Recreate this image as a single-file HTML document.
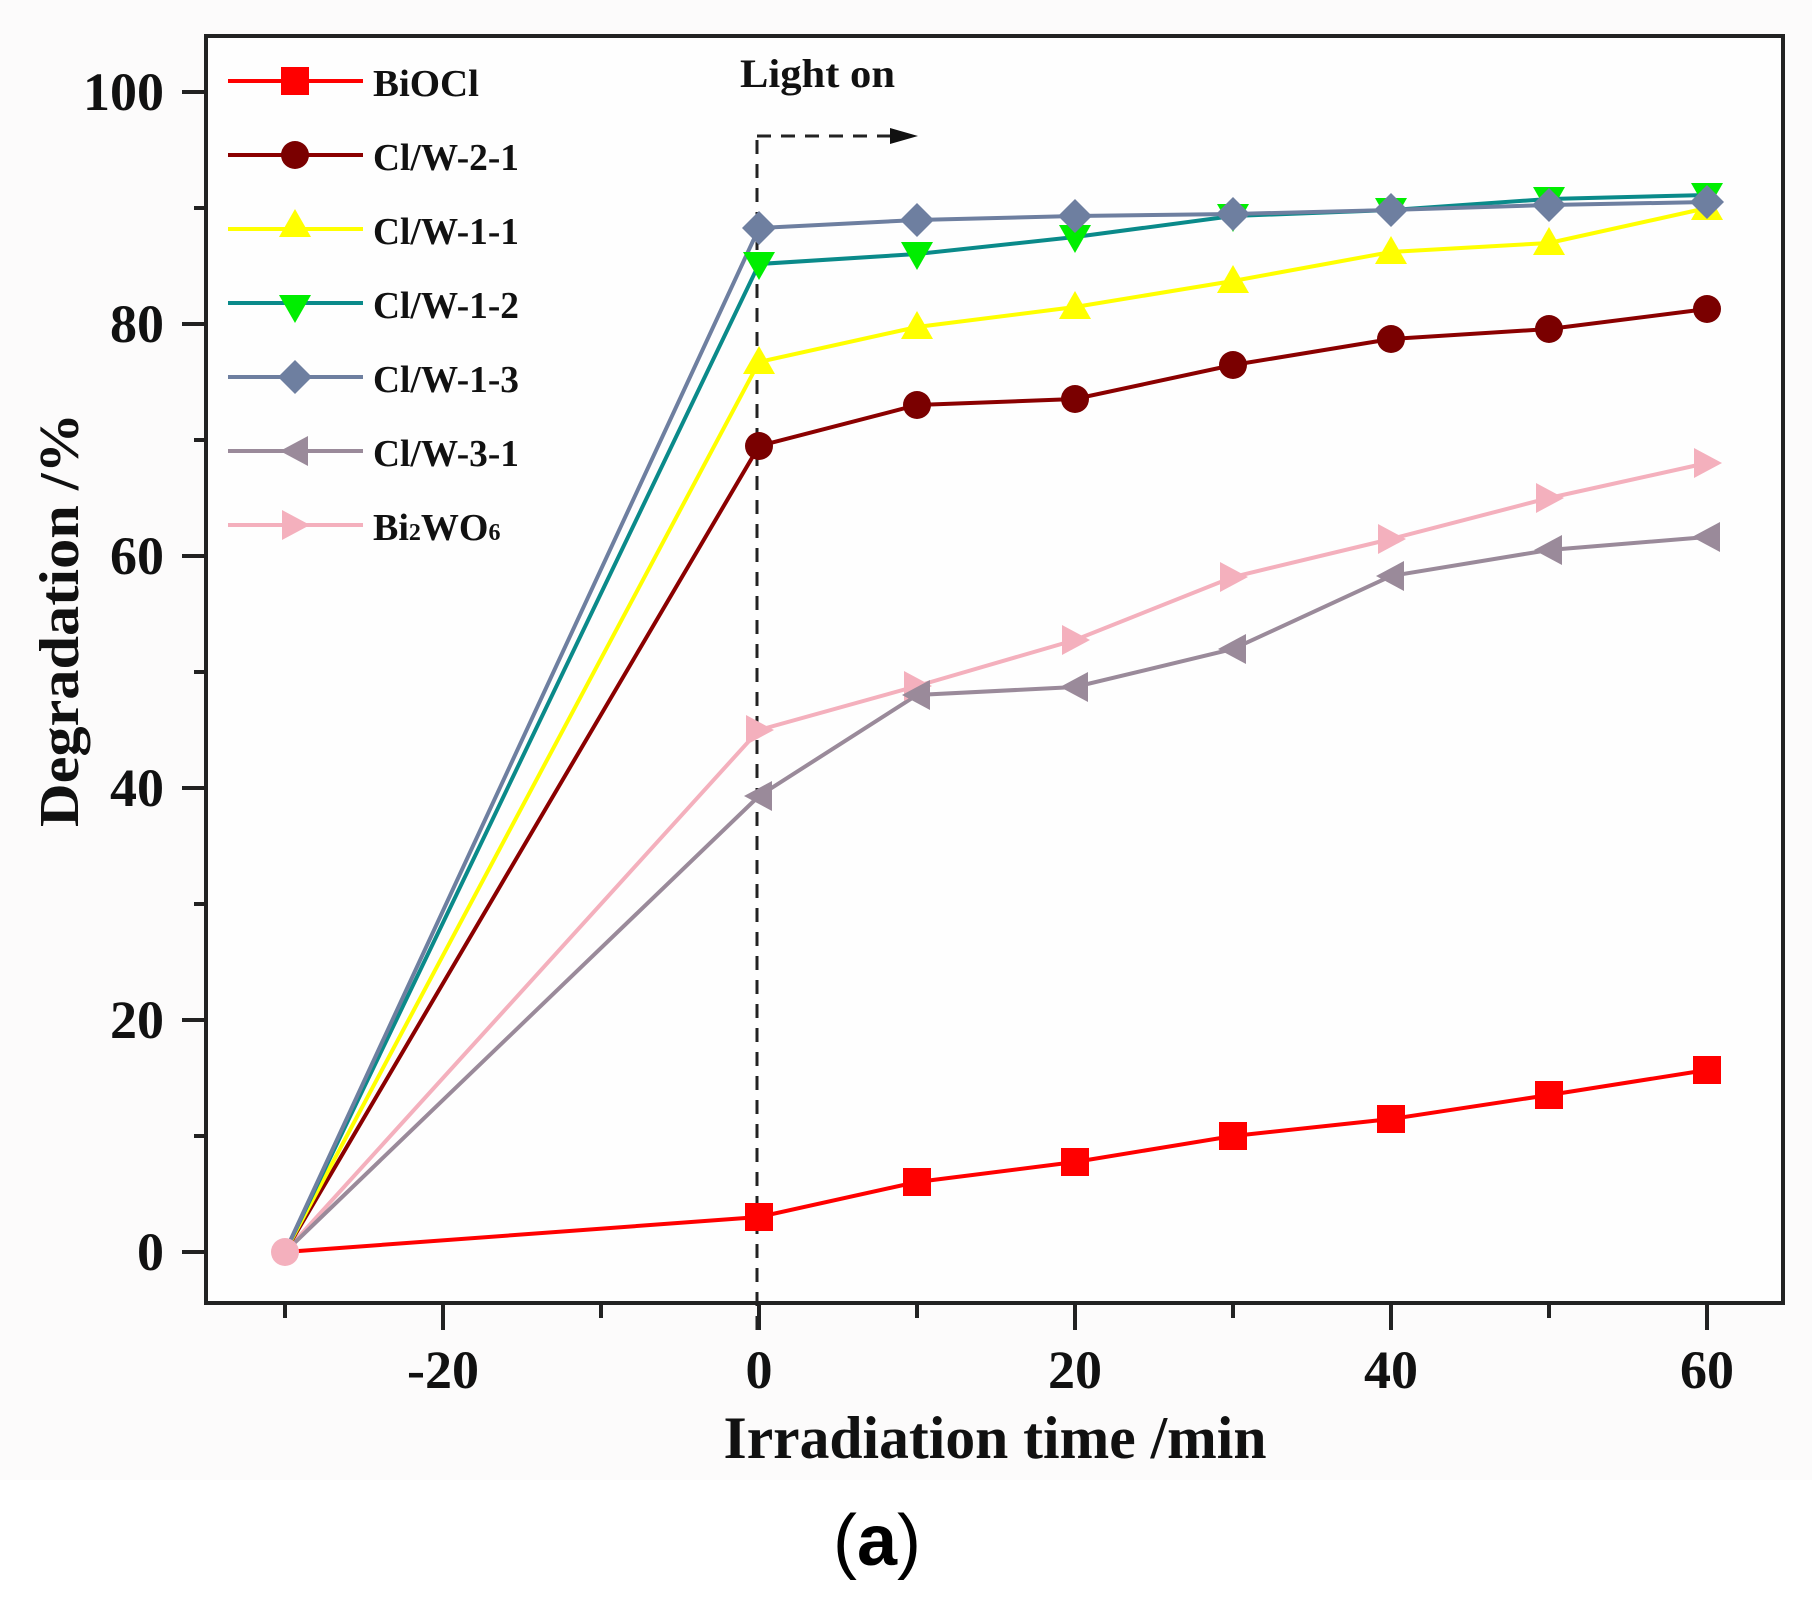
<!DOCTYPE html>
<html><head><meta charset="utf-8"><style>html,body{margin:0;padding:0;background:#fff}svg{display:block}</style></head>
<body>
<svg width="1812" height="1620" viewBox="0 0 1812 1620" xmlns="http://www.w3.org/2000/svg">
<rect x="0" y="0" width="1812" height="1480" fill="#fcfbfb"/>
<rect x="0" y="1480" width="1812" height="140" fill="#fff"/>
<g font-family="Liberation Serif, serif" font-weight="bold" fill="#111">
<rect x="206" y="36" width="1577" height="1267" fill="#fefefe" stroke="#222" stroke-width="4"/>
<g stroke="#222" stroke-width="4">
<line x1="182" y1="92" x2="206" y2="92"/><line x1="194" y1="208" x2="206" y2="208"/>
<line x1="182" y1="324" x2="206" y2="324"/><line x1="194" y1="440" x2="206" y2="440"/>
<line x1="182" y1="556" x2="206" y2="556"/><line x1="194" y1="672" x2="206" y2="672"/>
<line x1="182" y1="788" x2="206" y2="788"/><line x1="194" y1="904" x2="206" y2="904"/>
<line x1="182" y1="1020" x2="206" y2="1020"/><line x1="194" y1="1136" x2="206" y2="1136"/>
<line x1="182" y1="1252" x2="206" y2="1252"/>
<line x1="285" y1="1303" x2="285" y2="1318"/><line x1="443" y1="1303" x2="443" y2="1330"/>
<line x1="601" y1="1303" x2="601" y2="1318"/><line x1="759" y1="1303" x2="759" y2="1330"/>
<line x1="917" y1="1303" x2="917" y2="1318"/><line x1="1075" y1="1303" x2="1075" y2="1330"/>
<line x1="1233" y1="1303" x2="1233" y2="1318"/><line x1="1391" y1="1303" x2="1391" y2="1330"/>
<line x1="1549" y1="1303" x2="1549" y2="1318"/><line x1="1707" y1="1303" x2="1707" y2="1330"/>
</g>
<g font-size="54" text-anchor="end">
<text x="164" y="110">100</text><text x="164" y="342">80</text><text x="164" y="574">60</text>
<text x="164" y="806">40</text><text x="164" y="1038">20</text><text x="164" y="1270">0</text>
</g>
<g font-size="54" text-anchor="middle">
<text x="443" y="1388">-20</text><text x="759" y="1388">0</text><text x="1075" y="1388">20</text>
<text x="1391" y="1388">40</text><text x="1707" y="1388">60</text>
</g>
<text x="995" y="1458" font-size="60" text-anchor="middle" textLength="543" lengthAdjust="spacingAndGlyphs">Irradiation time /min</text>
<text transform="translate(78,620) rotate(-90)" font-size="56" text-anchor="middle" textLength="414" lengthAdjust="spacingAndGlyphs">Degradation /%</text>
<text x="740" y="87" font-size="40" textLength="155" lengthAdjust="spacingAndGlyphs">Light on</text>
</g>
<g stroke="#222" stroke-width="3" stroke-dasharray="14,10" fill="none">
<line x1="757" y1="1330" x2="757" y2="136"/>
<line x1="757" y1="136" x2="890" y2="136"/>
</g>
<polygon points="918,136 890,128 890,144" fill="#111"/>

<g stroke-width="4" fill="none">
<polyline stroke="#f4b0bd" points="285,1252 759,730 917,686 1075,640 1233,577 1391,539 1549,498 1707,463"/>
<polyline stroke="#9a8a9a" points="285,1252 759,796 917,695 1075,687 1233,649 1391,576 1549,550 1707,537"/>
<polyline stroke="#8b0000" points="285,1252 759,446 917,405 1075,399 1233,365 1391,339 1549,329 1707,309"/>
<polyline stroke="#ffff00" points="285,1252 759,362 917,327 1075,307 1233,281 1391,252 1549,243 1707,208"/>
<polyline stroke="#0a8a8a" points="285,1252 759,264 917,254 1075,237 1233,216 1391,210 1549,199 1707,195"/>
<polyline stroke="#6e7fa0" points="285,1252 759,228 917,220 1075,216 1233,214 1391,210 1549,205 1707,202"/>
<polyline stroke="#ff0000" points="285,1252 759,1217 917,1182 1075,1162 1233,1136 1391,1119 1549,1095 1707,1070"/>
</g>
<g fill="#f4b0bd"><path d="M-13,-15 L15,0 L-13,15Z" transform="translate(759,730)"/><path d="M-13,-15 L15,0 L-13,15Z" transform="translate(917,686)"/><path d="M-13,-15 L15,0 L-13,15Z" transform="translate(1075,640)"/><path d="M-13,-15 L15,0 L-13,15Z" transform="translate(1233,577)"/><path d="M-13,-15 L15,0 L-13,15Z" transform="translate(1391,539)"/><path d="M-13,-15 L15,0 L-13,15Z" transform="translate(1549,498)"/><path d="M-13,-15 L15,0 L-13,15Z" transform="translate(1707,463)"/></g>
<g fill="#9a8a9a"><path d="M13,-15 L-15,0 L13,15Z" transform="translate(759,796)"/><path d="M13,-15 L-15,0 L13,15Z" transform="translate(917,695)"/><path d="M13,-15 L-15,0 L13,15Z" transform="translate(1075,687)"/><path d="M13,-15 L-15,0 L13,15Z" transform="translate(1233,649)"/><path d="M13,-15 L-15,0 L13,15Z" transform="translate(1391,576)"/><path d="M13,-15 L-15,0 L13,15Z" transform="translate(1549,550)"/><path d="M13,-15 L-15,0 L13,15Z" transform="translate(1707,537)"/></g>
<g fill="#7a0000"><circle cx="759" cy="446" r="14"/><circle cx="917" cy="405" r="14"/><circle cx="1075" cy="399" r="14"/><circle cx="1233" cy="365" r="14"/><circle cx="1391" cy="339" r="14"/><circle cx="1549" cy="329" r="14"/><circle cx="1707" cy="309" r="14"/></g>
<g fill="#ffff00"><path d="M0,-16 L16,12 L-16,12Z" transform="translate(759,362)"/><path d="M0,-16 L16,12 L-16,12Z" transform="translate(917,327)"/><path d="M0,-16 L16,12 L-16,12Z" transform="translate(1075,307)"/><path d="M0,-16 L16,12 L-16,12Z" transform="translate(1233,281)"/><path d="M0,-16 L16,12 L-16,12Z" transform="translate(1391,252)"/><path d="M0,-16 L16,12 L-16,12Z" transform="translate(1549,243)"/><path d="M0,-16 L16,12 L-16,12Z" transform="translate(1707,208)"/></g>
<g fill="#00ee00"><path d="M0,16 L16,-12 L-16,-12Z" transform="translate(759,264)"/><path d="M0,16 L16,-12 L-16,-12Z" transform="translate(917,254)"/><path d="M0,16 L16,-12 L-16,-12Z" transform="translate(1075,237)"/><path d="M0,16 L16,-12 L-16,-12Z" transform="translate(1233,216)"/><path d="M0,16 L16,-12 L-16,-12Z" transform="translate(1391,210)"/><path d="M0,16 L16,-12 L-16,-12Z" transform="translate(1549,199)"/><path d="M0,16 L16,-12 L-16,-12Z" transform="translate(1707,195)"/></g>
<g fill="#6e7fa0"><path d="M0,-17 L17,0 L0,17 L-17,0Z" transform="translate(759,228)"/><path d="M0,-17 L17,0 L0,17 L-17,0Z" transform="translate(917,220)"/><path d="M0,-17 L17,0 L0,17 L-17,0Z" transform="translate(1075,216)"/><path d="M0,-17 L17,0 L0,17 L-17,0Z" transform="translate(1233,214)"/><path d="M0,-17 L17,0 L0,17 L-17,0Z" transform="translate(1391,210)"/><path d="M0,-17 L17,0 L0,17 L-17,0Z" transform="translate(1549,205)"/><path d="M0,-17 L17,0 L0,17 L-17,0Z" transform="translate(1707,202)"/></g>
<g fill="#ff0000"><rect x="745" y="1203" width="28" height="28"/><rect x="903" y="1168" width="28" height="28"/><rect x="1061" y="1148" width="28" height="28"/><rect x="1219" y="1122" width="28" height="28"/><rect x="1377" y="1105" width="28" height="28"/><rect x="1535" y="1081" width="28" height="28"/><rect x="1693" y="1056" width="28" height="28"/></g>
<circle cx="285" cy="1252" r="14" fill="#f4b0bd"/>

<g stroke-width="4">
<line x1="228" y1="81" x2="363" y2="81" stroke="#ff0000"/>
<line x1="228" y1="155" x2="363" y2="155" stroke="#8b0000"/>
<line x1="228" y1="229" x2="363" y2="229" stroke="#ffff00"/>
<line x1="228" y1="303" x2="363" y2="303" stroke="#0a8a8a"/>
<line x1="228" y1="377" x2="363" y2="377" stroke="#6e7fa0"/>
<line x1="228" y1="451" x2="363" y2="451" stroke="#9a8a9a"/>
<line x1="228" y1="525" x2="363" y2="525" stroke="#f4b0bd"/>
</g>
<rect x="281" y="67" width="28" height="28" fill="#ff0000"/>
<circle cx="295" cy="155" r="14" fill="#7a0000"/>
<path d="M0,-16 L16,12 L-16,12Z" transform="translate(295,225)" fill="#ffff00"/>
<path d="M0,16 L16,-12 L-16,-12Z" transform="translate(295,307)" fill="#00ee00"/>
<path d="M0,-17 L17,0 L0,17 L-17,0Z" transform="translate(295,377)" fill="#6e7fa0"/>
<path d="M13,-15 L-15,0 L13,15Z" transform="translate(295,451)" fill="#9a8a9a"/>
<path d="M-13,-15 L15,0 L-13,15Z" transform="translate(295,525)" fill="#f4b0bd"/>
<g font-family="Liberation Serif, serif" font-weight="bold" font-size="38" fill="#111">
<text x="373" y="96" textLength="106" lengthAdjust="spacingAndGlyphs">BiOCl</text>
<text x="373" y="170" textLength="146" lengthAdjust="spacingAndGlyphs">Cl/W-2-1</text>
<text x="373" y="244" textLength="146" lengthAdjust="spacingAndGlyphs">Cl/W-1-1</text>
<text x="373" y="318" textLength="146" lengthAdjust="spacingAndGlyphs">Cl/W-1-2</text>
<text x="373" y="392" textLength="146" lengthAdjust="spacingAndGlyphs">Cl/W-1-3</text>
<text x="373" y="466" textLength="146" lengthAdjust="spacingAndGlyphs">Cl/W-3-1</text>
<text x="373" y="540">Bi<tspan font-size="24">2</tspan>WO<tspan font-size="24">6</tspan></text>
</g>
<text x="877" y="1565" font-family="Liberation Sans, sans-serif" font-size="72" text-anchor="middle" fill="#000">(<tspan font-weight="bold">a</tspan>)</text>
</svg>
</body></html>
